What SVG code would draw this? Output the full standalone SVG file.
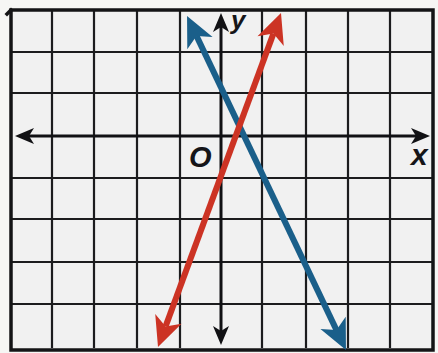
<svg xmlns="http://www.w3.org/2000/svg" width="438" height="353" viewBox="0 0 438 353">
  <style>
    .grid { stroke: #1c1c1e; stroke-width: 2.2; fill: none; }
    .border { stroke: #141416; stroke-width: 3.5; fill: none; stroke-linecap: square; }
    .axis { stroke: #111114; stroke-width: 3; fill: none; }
    .red { stroke: #cc3324; stroke-width: 6; fill: none; }
    .blue { stroke: #1a5f8a; stroke-width: 6; fill: none; }
    .lbl { font-family: "Liberation Sans", Arial, sans-serif; font-weight: bold; font-style: italic; fill: #151518; }
  </style>
  <defs>
    <marker id="headRed" markerUnits="userSpaceOnUse" orient="auto-start-reverse" refX="0" refY="0" markerWidth="60" markerHeight="60" viewBox="-30 -30 60 60" overflow="visible">
      <path d="M22,0 L-8,-14 L0,0 L-8,14 Z" fill="#cc3324"/>
    </marker>
    <marker id="headBlue" markerUnits="userSpaceOnUse" orient="auto-start-reverse" refX="0" refY="0" markerWidth="60" markerHeight="60" viewBox="-30 -30 60 60" overflow="visible">
      <path d="M22,0 L-8,-14 L0,0 L-8,14 Z" fill="#1a5f8a"/>
    </marker>
    <marker id="headAxis" markerUnits="userSpaceOnUse" orient="auto-start-reverse" refX="0" refY="0" markerWidth="40" markerHeight="40" viewBox="-20 -20 40 40" overflow="visible">
      <path d="M12,0 L-7,-8 L-2,0 L-7,8 Z" fill="#111114"/>
    </marker>
  </defs>

  <rect x="0" y="0" width="438" height="353" fill="#f6f6f4"/>
  <rect x="11" y="10" width="422" height="338" fill="#f1f1f1"/>

  <g id="grid">
    <path class="grid" d="M52,10 V348 M94,10 V348 M137,10 V348 M180,10 V348 M262,10 V348 M306,10 V348 M348,10 V348 M390,10 V348"/>
    <path class="grid" d="M11,52 H433 M11,93 H433 M11,178 H433 M11,219 H433 M11,262 H433 M11,304 H433"/>
    <path class="border" d="M11,10 H433 V349 M11,10 V350 H433"/>
    <path class="border" d="M7,14 L11,10" stroke-width="3"/>
  </g>

  <g id="connectors">
    <line id="x-axis" class="axis" x1="27" y1="136" x2="418" y2="136" marker-start="url(#headAxis)" marker-end="url(#headAxis)"/>
    <line id="y-axis" class="axis" x1="221" y1="25" x2="221" y2="333" marker-start="url(#headAxis)" marker-end="url(#headAxis)"/>
    <line id="blue-line" class="blue" x1="196.5" y1="35.9" x2="336.5" y2="330.1" marker-start="url(#headBlue)" marker-end="url(#headBlue)"/>
    <line id="red-line" class="red" x1="165.6" y1="326.4" x2="273.4" y2="33.6" marker-start="url(#headRed)" marker-end="url(#headRed)"/>
  </g>

  <g id="labels">
    <text class="lbl" x="231" y="29" font-size="26">y</text>
    <text class="lbl" x="189" y="167" font-size="29">O</text>
    <text class="lbl" x="411" y="165" font-size="30">x</text>
  </g>
</svg>
